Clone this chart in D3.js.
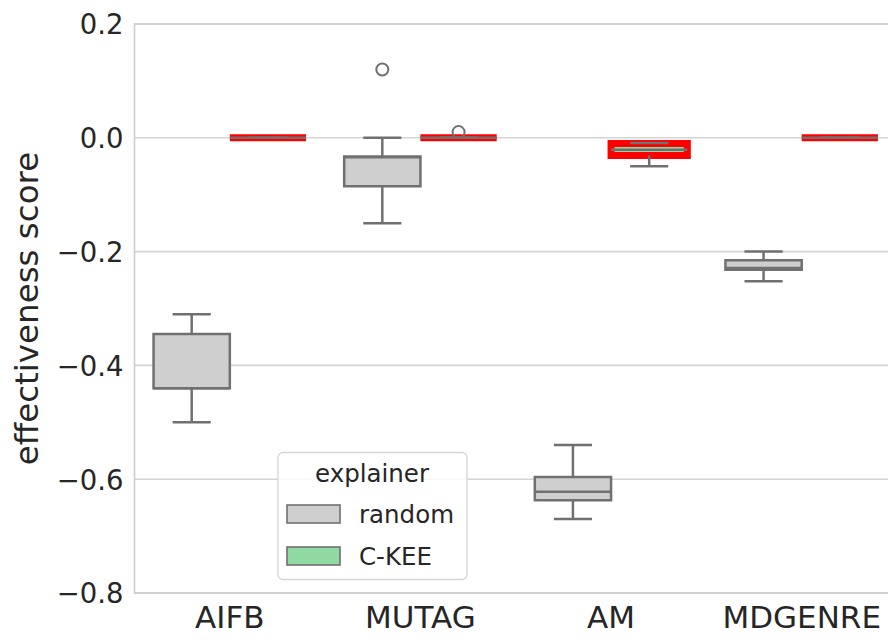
<!DOCTYPE html>
<html>
<head>
<meta charset="utf-8">
<script src="https://cdn.jsdelivr.net/npm/d3@7"></script>
<style>
  html, body { margin: 0; padding: 0; background: #fff; }
  svg { display: block; }
  text { font-family: "DejaVu Sans", sans-serif; fill: #262626; }
</style>
</head>
<body>
<svg id="chart" width="888" height="640"></svg>
<script>
// Datasets on the x axis and the two explainers compared in each group
const categories = ["AIFB", "MUTAG", "AM", "MDGENRE"];
const explainers = ["random", "C-KEE"];

// Five-number summaries per dataset: [whisker low, Q1, median, Q3, whisker high]
const randomStats = [
  [-0.50, -0.440, -0.440, -0.345, -0.31],
  [-0.15, -0.085, -0.034, -0.033, 0.0],
  [-0.67, -0.637, -0.622, -0.596, -0.54],
  [-0.252, -0.232, -0.229, -0.215, -0.20]
];
const ckeeStats = [
  [0, 0, 0, 0, 0],
  [0, 0, 0, 0, 0],
  [-0.05, -0.031, -0.021, -0.010, -0.009],
  [0, 0, 0, 0, 0]
];
// Points outside the whiskers
const randomOutliers = [[], [0.12], [], []];
const ckeeOutliers = [[], [0.01], [], []];

const yTicks = [0.2, 0.0, -0.2, -0.4, -0.6, -0.8];

const series = [
  { name: explainers[0], stats: randomStats, outliers: randomOutliers, fill: "#cfcfcf", edge: "#707070", edgeWidth: 2.5 },
  { name: explainers[1], stats: ckeeStats, outliers: ckeeOutliers, fill: "#8fd9a2", edge: "#ff0000", edgeWidth: 7 }
];

const svg = d3.select("#chart");
const plotLeft = 134.5, plotRight = 897, plotTop = 24, plotBottom = 593;

const x = d3.scaleBand().domain(categories).range([plotLeft, plotRight]).paddingInner(0).paddingOuter(0);
const y = d3.scaleLinear().domain([-0.8, 0.2]).range([plotBottom, plotTop]);
const hue = d3.scaleBand().domain(explainers).range([0, x.bandwidth() * 0.8]);

// Horizontal grid
svg.append("g").selectAll("line").data(yTicks).join("line")
  .attr("x1", plotLeft).attr("x2", plotRight)
  .attr("y1", d => y(d)).attr("y2", d => y(d))
  .attr("stroke", "#d4d4d4").attr("stroke-width", 1.6);

// Frame
svg.append("rect").attr("x", plotLeft).attr("y", plotTop)
  .attr("width", plotRight - plotLeft).attr("height", plotBottom - plotTop)
  .attr("fill", "none").attr("stroke", "#cccccc").attr("stroke-width", 1.6);

// Y axis tick labels
const yAxis = d3.axisLeft(y).tickValues(yTicks).tickSize(0).tickPadding(11)
  .tickFormat(d => d3.format(".1f")(d).replace("-", "\u2212"));
const gy = svg.append("g").attr("transform", `translate(${plotLeft},0)`).call(yAxis);
gy.select(".domain").remove();
gy.selectAll("text").attr("font-size", 27.5).attr("fill", "#262626")
  .style("font-family", "DejaVu Sans").attr("dy", "0.36em");

// X axis labels
const xAxis = d3.axisBottom(x).tickSize(0).tickPadding(13);
const gx = svg.append("g").attr("transform", `translate(0,${plotBottom})`).call(xAxis);
gx.select(".domain").remove();
gx.selectAll("text").attr("font-size", 31).attr("fill", "#262626")
  .style("font-family", "DejaVu Sans");

// Y label
svg.append("text")
  .attr("transform", `translate(38,${(plotTop + plotBottom) / 2}) rotate(-90)`)
  .attr("text-anchor", "middle").attr("font-size", 32.5)
  .text("effectiveness score");

// Boxes
const boxLayer = svg.append("g");
series.forEach(s => {
  categories.forEach((cat, i) => {
    const [lo, q1, med, q3, hi] = s.stats[i];
    const x0 = x(cat) + x.bandwidth() * 0.1 + hue(s.name);
    const w = hue.bandwidth();
    const cx = x0 + w / 2;
    const capHalf = w / 4;
    const g = boxLayer.append("g");
    // box body
    g.append("path")
      .attr("d", `M${x0},${y(q3)}H${x0 + w}V${y(q1)}H${x0}Z`)
      .attr("fill", s.fill).attr("stroke", s.edge).attr("stroke-width", s.edgeWidth)
      .attr("stroke-linejoin", "miter");
    const grey = "#707070";
    // whiskers
    g.append("line").attr("x1", cx).attr("x2", cx).attr("y1", y(q1)).attr("y2", y(lo))
      .attr("stroke", grey).attr("stroke-width", 2.5);
    g.append("line").attr("x1", cx).attr("x2", cx).attr("y1", y(q3)).attr("y2", y(hi))
      .attr("stroke", grey).attr("stroke-width", 2.5);
    // caps
    [lo, hi].forEach(v => {
      g.append("line").attr("x1", cx - capHalf).attr("x2", cx + capHalf)
        .attr("y1", y(v)).attr("y2", y(v)).attr("stroke", grey).attr("stroke-width", 2.5);
    });
    // median
    g.append("line").attr("x1", x0).attr("x2", x0 + w)
      .attr("y1", y(med)).attr("y2", y(med)).attr("stroke", grey).attr("stroke-width", 2.5);
    // outliers
    s.outliers[i].forEach(v => {
      g.append("circle").attr("cx", cx).attr("cy", y(v)).attr("r", 6)
        .attr("fill", "none").attr("stroke", grey).attr("stroke-width", 2);
    });
  });
});

// Legend
const lg = svg.append("g");
lg.append("rect").attr("x", 278).attr("y", 452.5).attr("width", 189).attr("height", 127)
  .attr("rx", 5).attr("fill", "rgba(255,255,255,0.8)").attr("stroke", "#d6d6d6").attr("stroke-width", 1.3);
lg.append("text").attr("x", 372).attr("y", 482).attr("text-anchor", "middle")
  .attr("font-size", 24.5).text("explainer");
series.forEach((s, i) => {
  const yy = 505 + i * 42;
  lg.append("rect").attr("x", 287).attr("y", yy).attr("width", 53).attr("height", 18)
    .attr("fill", s.fill).attr("stroke", "#707070").attr("stroke-width", 1.6);
  lg.append("text").attr("x", 359).attr("y", yy + 17.5)
    .attr("font-size", 24.5).text(s.name);
});
</script>
</body>
</html>
